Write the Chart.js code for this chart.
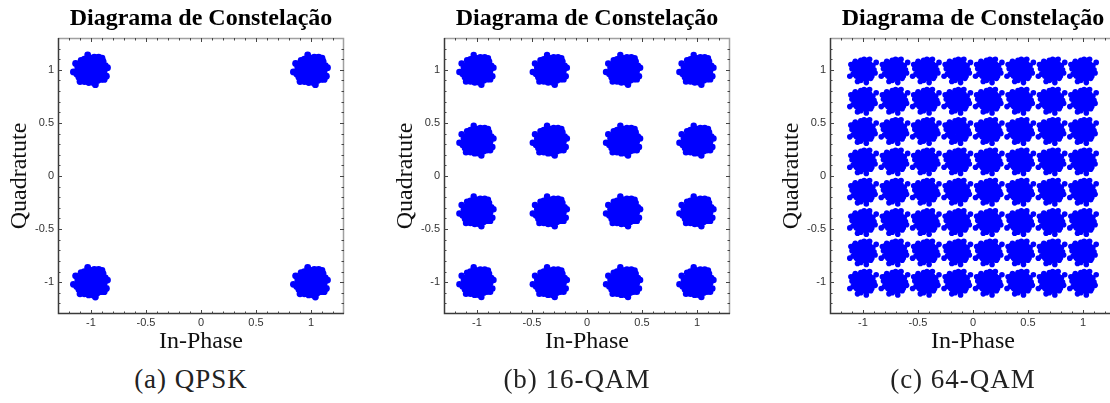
<!DOCTYPE html>
<html>
<head>
<meta charset="utf-8">
<script src="https://cdn.jsdelivr.net/npm/chart.js@4.4.1/dist/chart.umd.min.js"></script>
<style>
  html, body { margin: 0; padding: 0; background: #fff; }
  body { width: 1110px; height: 403px; position: relative; overflow: hidden; }
  .panel { position: absolute; top: 0; width: 402px; height: 403px; }
  .panel canvas { position: absolute; left: 0; top: 0; }
  .caption {
    position: absolute; left: 0; width: 382px; top: 364px;
    text-align: center; font-family: "Liberation Serif", "Times New Roman", serif;
    font-size: 27px; letter-spacing: 1px; color: #222;
  }
</style>
</head>
<body>
<div class="panel" style="left:0px"><canvas id="qpsk" width="402" height="360"></canvas><div class="caption">(a) QPSK</div></div>
<div class="panel" style="left:386px"><canvas id="qam16" width="402" height="360"></canvas><div class="caption">(b) 16-QAM</div></div>
<div class="panel" style="left:772px"><canvas id="qam64" width="402" height="360"></canvas><div class="caption">(c) 64-QAM</div></div>
<script>
// ---- data ----
const chartTitle = "Diagrama de Constelação";
const xTitle = "In-Phase";
const yTitle = "Quadratute";
const tickValues = [-1, -0.5, 0, 0.5, 1];

// I/Q levels of the ideal symbols
const qpskLevels = [-1, 1];
const qam16Levels = [-1, -0.333, 0.333, 1];
const qam64Levels = [-1, -0.714, -0.429, -0.143, 0.143, 0.429, 0.714, 1];

// noise cloud around each symbol (hundredths of a unit)
const spreadWide = [
  [0,0],[3,1],[-2,4],[-4,-1],[1,-4],[5,-3],[-5,3],[6,4],[-1,7],[-6,-5],
  [2,6],[7,-1],[-7,1],[4,-7],[-3,-7],[8,3],[-8,-3],[1,9],[-2,-9],[9,-5],
  [-9,5],[5,8],[-5,-8],[10,1],[-10,-1],[3,-10],[-4,10],[7,7],[-7,-7],[8,-8],
  [-8,8],[0,11],[0,-11],[11,-3],[-11,3],[6,-10],[-6,10],[10,6],[-10,-6],[2,2],
  [-2,-2],[4,3],[-3,5],[-5,0],[0,-6],[6,1],[-1,3],[3,-2],[-4,-4],[5,5],
  [-6,6],[7,-5],[-2,8],[2,-8],[9,0],[-9,1],[1,5],[-1,-5],[4,9],[-4,-10],
  [12,-1],[-12,2],[11,8],[-11,-7],[3,12],[-2,-12],[9,-9],[-9,9],[13,4],[-13,-4],
  [6,-6],[-6,-2],[2,-5],[-3,2],[8,6],[-7,4],[5,-9],[-5,7],[1,1],[-1,-1],
  [15,2],[-14,6],[4,-14],[-3,14],[12,-9],[-16,-2],[10,11],[-10,-11],[14,-6],[7,12],
  [-10,4],[10,-2],[-3,-11],[5,11],[-8,-9],[11,-7],[-12,-2],[12,3],[2,-12],[-6,-11]
];
const spreadTight = [
  [0,0],[3,2],[-3,-2],[2,-4],[-2,4],[5,0],[-5,1],[1,6],[-1,-6],[6,-4],
  [-6,4],[4,5],[-4,-5],[7,2],[-7,-2],[3,-7],[-3,7],[8,-1],[-8,0],[0,8],
  [0,-8],[6,6],[-6,-6],[5,-6],[-5,6],[2,1],[-2,-1],[4,-2],[-4,2],[1,-3],
  [-1,3],[9,4],[-9,-4],[4,9],[-4,-9],[8,-6],[-8,6],[10,0],[-10,1],[1,10],
  [-2,-10],[7,-8],[-7,8],[11,-3],[-11,5],[6,10],[-5,-11],[12,7],[-12,-6],[3,-12],
  [-3,4],[2,7],[-6,-1],[7,-4],[9,-2],[-9,2],[-2,9],[3,-9]
];

// build scatter points for a square constellation
function clusterPoints(levels, spread) {
  const pts = [];
  levels.forEach((yi) => {
    levels.forEach((xi) => {
      spread.forEach(([dx, dy]) => pts.push({ x: xi + dx / 100, y: yi + dy / 100 }));
    });
  });
  return pts;
}

// frame with inward ticks every 0.1 on all four sides
const frameTicks = {
  id: "frameTicks",
  afterDatasetsDraw(chart) {
    const { ctx, chartArea: a, scales: { x, y } } = chart;
    ctx.save();
    ctx.lineWidth = 1.5;
    ctx.strokeStyle = "#a0a0a0";
    ctx.beginPath();
    ctx.moveTo(a.left, a.top + 0.5); ctx.lineTo(a.right - 0.5, a.top + 0.5);
    ctx.lineTo(a.right - 0.5, a.bottom);
    ctx.stroke();
    ctx.strokeStyle = "#3a3a3a";
    ctx.beginPath();
    ctx.moveTo(a.left + 0.5, a.top); ctx.lineTo(a.left + 0.5, a.bottom - 0.5);
    ctx.lineTo(a.right, a.bottom - 0.5);
    ctx.stroke();
    ctx.lineWidth = 1;
    ctx.strokeStyle = "#444";
    ctx.beginPath();
    for (let k = -12; k <= 12; k++) {
      const len = k % 5 === 0 ? 4 : 2.5;
      const px = Math.round(x.getPixelForValue(k / 10)) + 0.5;
      ctx.moveTo(px, a.bottom); ctx.lineTo(px, a.bottom - len);
      ctx.moveTo(px, a.top); ctx.lineTo(px, a.top + len);
      const py = Math.round(y.getPixelForValue(k / 10)) + 0.5;
      ctx.moveTo(a.left, py); ctx.lineTo(a.left + len, py);
      ctx.moveTo(a.right, py); ctx.lineTo(a.right - len, py);
    }
    ctx.stroke();
    ctx.restore();
  }
};

function axis(title, isX) {
  return {
    type: "linear",
    min: -1.3,
    max: 1.3,
    afterBuildTicks: (s) => { s.ticks = tickValues.map((v) => ({ value: v })); },
    afterFit: (s) => { if (isX) s.height = 46; else s.width = 58; },
    grid: { display: false, drawTicks: false },
    border: { display: false },
    ticks: {
      padding: isX ? 2 : 4,
      color: "#333",
      font: { family: "Liberation Sans, Arial, sans-serif", size: 11 },
      callback: (v) => String(v)
    },
    title: {
      display: true,
      text: title,
      color: "#111",
      font: { family: "Liberation Serif, Times New Roman, serif", size: 24 },
      padding: isX ? { top: 0, bottom: 4 } : { top: 5, bottom: 0 }
    }
  };
}

function makeChart(id, points, radius) {
  return new Chart(document.getElementById(id), {
    type: "scatter",
    data: {
      datasets: [{
        data: points,
        pointStyle: "circle",
        pointRadius: radius,
        borderWidth: 0,
        backgroundColor: "#0000ff"
      }]
    },
    options: {
      responsive: false,
      animation: false,
      layout: { padding: 0 },
      plugins: {
        legend: { display: false },
        tooltip: { enabled: false },
        title: {
          display: true,
          text: chartTitle,
          color: "#000",
          font: { family: "Liberation Serif, Times New Roman, serif", size: 24, weight: "bold" },
          padding: { top: 4, bottom: 5.2 }
        }
      },
      scales: {
        x: axis(xTitle, true),
        y: axis(yTitle, false),
        // empty right-hand spacer so the title centres over the whole panel
        yr: {
          position: "right",
          display: true,
          grid: { display: false, drawTicks: false },
          border: { display: false },
          ticks: { display: false },
          afterFit: (s) => { s.width = 58; }
        }
      }
    },
    plugins: [frameTicks]
  });
}

makeChart("qpsk", clusterPoints(qpskLevels, spreadWide), 3.4);
makeChart("qam16", clusterPoints(qam16Levels, spreadWide), 3.2);
makeChart("qam64", clusterPoints(qam64Levels, spreadTight), 2.8);
</script>
</body>
</html>
